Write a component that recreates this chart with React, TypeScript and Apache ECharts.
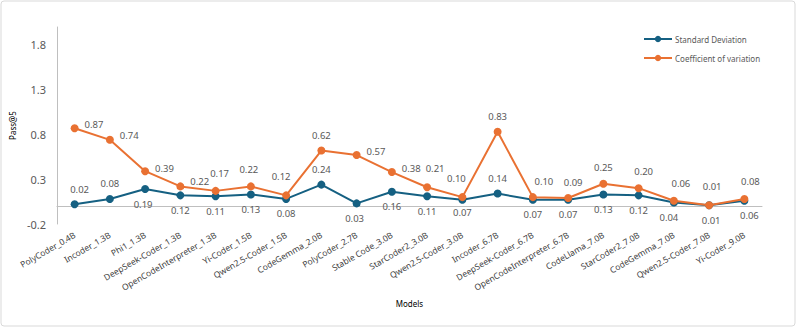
import React, { useEffect, useRef } from "react";
import * as echarts from "echarts";

const categories = [
  "PolyCoder_0.4B", "Incoder_1.3B", "Phi1_1.3B", "DeepSeek-Coder_1.3B", "OpenCodeInterpreter_1.3B",
  "Yi-Coder_1.5B", "Qwen2.5-Coder_1.5B", "CodeGemma_2.0B", "PolyCoder_2.7B", "Stable Code_3.0B",
  "StarCoder2_3.0B", "Qwen2.5-Coder_3.0B", "Incoder_6.7B", "DeepSeek-Coder_6.7B", "OpenCodeInterpreter_6.7B",
  "CodeLlama_7.0B", "StarCoder2_7.0B", "CodeGemma_7.0B", "Qwen2.5-Coder_7.0B", "Yi-Coder_9.0B",
];
const stdDev = [0.02, 0.08, 0.19, 0.12, 0.11, 0.13, 0.08, 0.24, 0.03, 0.16, 0.11, 0.07, 0.14, 0.07, 0.07, 0.13, 0.12, 0.04, 0.01, 0.06];
const coefVar = [0.87, 0.74, 0.39, 0.22, 0.17, 0.22, 0.12, 0.62, 0.57, 0.38, 0.21, 0.10, 0.83, 0.10, 0.09, 0.25, 0.20, 0.06, 0.01, 0.08];
const yTicks = [-0.2, 0.3, 0.8, 1.3, 1.8];

// label placement (layout only)
const stdLabelPos = ["top", "top", "bottom", "bottom", "bottom", "bottom", "bottom", "top", "bottom", "bottom", "bottom", "bottom", "top", "bottom", "bottom", "bottom", "bottom", "bottom", "bottom", "bottom"];
const stdLabelOff = [[5, 0], [0, 0], [-2, 0], [0, 0], [0, 0], [0, 0], [0, 0], [0, 0], [-2, 0], [0, 0], [0, 0], [0, -2], [0, 0], [0, 0], [0, 0], [0, 0], [0, 0], [-5, 0], [2, 0], [5, 0]];
const cvLabelPos = ["right", "right", "right", "right", "top", "top", "top", "top", "right", "right", "top", "top", "top", "top", "top", "top", "top", "top", "top", "top"];
const cvLabelOff = [[0, -4], [0, -4], [0, -3], [0, -5], [4, -2], [-2, -2], [-5, -4], [0, 0], [0, -4], [0, -4], [8, -4], [-6, -4], [0, 0], [11, -1], [5, -1], [0, -1], [5, -2], [7, -2], [3, -4], [6, -2]];

const FONT = "Noto Sans";
const LABEL_COLOR = "#595959";

export default function App() {
  const ref = useRef<HTMLDivElement>(null);
  useEffect(() => {
    document.body.style.margin = "0";
    const chart = echarts.init(ref.current!, null, { renderer: "svg" });
    const mk = (vals: number[], pos: string[], off: number[][]) =>
      vals.map((v, i) => ({
        value: v,
        label: { position: pos[i], offset: off[i] },
      }));
    const labelCfg = {
      show: true,
      fontSize: 9.5,
      color: LABEL_COLOR,
      fontFamily: FONT,
      distance: 6,
      formatter: (p: any) => Number(p.value).toFixed(2),
    };
    chart.setOption({
      animation: false,
      textStyle: { fontFamily: FONT },
      graphic: [
        {
          type: "rect",
          shape: { x: 1, y: 1, width: 794, height: 325, r: 3 },
          style: { fill: "none", stroke: "#d9d9d9", lineWidth: 1 },
          silent: true,
        },
      ],
      legend: {
        orient: "vertical",
        left: 638,
        top: 30,
        itemWidth: 28,
        itemHeight: 8,
        itemGap: 11,
        textStyle: { fontSize: 8, color: LABEL_COLOR, fontFamily: FONT, padding: [0, 0, 0, -2] },
        data: ["Standard Deviation", "Coefficient of variation"],
      },
      grid: { left: 53, right: 35, top: 27, bottom: 105, containLabel: false },
      xAxis: {
        type: "category",
        data: categories,
        boundaryGap: true,
        name: "Models",
        nameLocation: "middle",
        nameGap: 75,
        nameTextStyle: { fontSize: 8, color: "#000", fontFamily: FONT },
        axisLine: { lineStyle: { color: "#bfbfbf", width: 1 } },
        axisTick: { show: false },
        axisLabel: {
          rotate: 30,
          interval: 0,
          fontSize: 8.5,
          color: "#404040",
          fontFamily: FONT,
          margin: 10,
        },
      },
      yAxis: {
        type: "value",
        min: -0.2,
        max: 2.0,
        name: "Pass@5",
        nameLocation: "middle",
        nameGap: 37,
        nameRotate: 90,
        nameTextStyle: { fontSize: 8, color: "#000", fontFamily: FONT },
        axisLine: { show: true, lineStyle: { color: "#bfbfbf", width: 1 } },
        axisTick: { show: false },
        splitLine: { show: false },
        axisLabel: {
          customValues: yTicks,
          formatter: (v: number) => v.toFixed(1),
          fontSize: 11,
          color: LABEL_COLOR,
          fontFamily: FONT,
          margin: 11,
        },
      },
      series: [
        {
          name: "Standard Deviation",
          type: "line",
          data: mk(stdDev, stdLabelPos, stdLabelOff),
          symbol: "circle",
          symbolSize: 8,
          itemStyle: { color: "#156082" },
          lineStyle: { color: "#156082", width: 2 },
          label: labelCfg,
          z: 2,
        },
        {
          name: "Coefficient of variation",
          type: "line",
          data: mk(coefVar, cvLabelPos, cvLabelOff),
          symbol: "circle",
          symbolSize: 8,
          itemStyle: { color: "#E97132" },
          lineStyle: { color: "#E97132", width: 2 },
          label: labelCfg,
          z: 3,
        },
      ],
    });
    return () => chart.dispose();
  }, []);
  return <div ref={ref} style={{ width: 797, height: 329 }} />;
}
